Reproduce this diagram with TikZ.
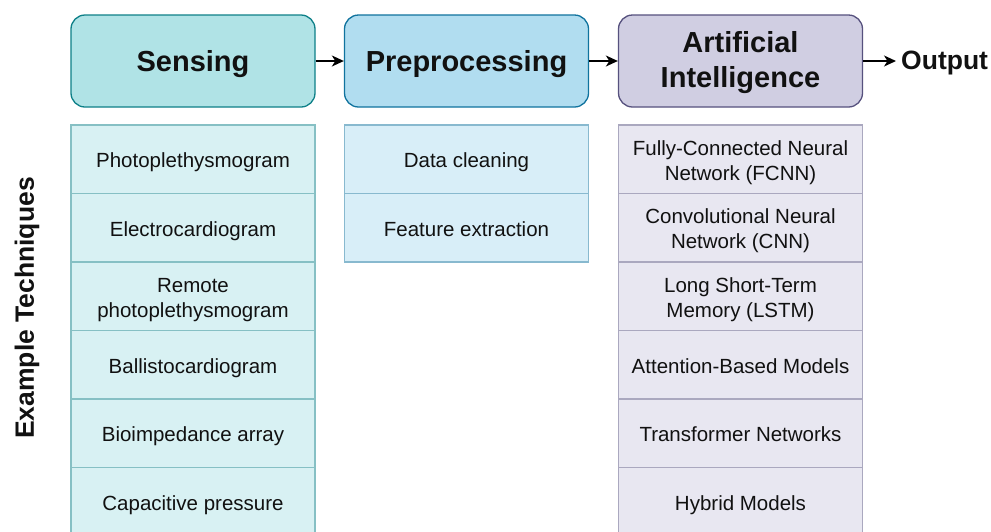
\documentclass[tikz,border=0pt]{standalone}
\usepackage{fontspec}
\setmainfont{Liberation Sans}
\usetikzlibrary{arrows.meta}
\definecolor{sF}{HTML}{B0E3E6}
\definecolor{sD}{HTML}{0E8088}
\definecolor{pF}{HTML}{B1DDF0}
\definecolor{pD}{HTML}{10739E}
\definecolor{aF}{HTML}{D0CEE2}
\definecolor{aD}{HTML}{56517E}
\definecolor{sCF}{HTML}{D8F1F3}
\definecolor{sCD}{HTML}{86C0C4}
\definecolor{pCF}{HTML}{D8EEF8}
\definecolor{pCD}{HTML}{88B9CF}
\definecolor{aCF}{HTML}{E8E7F1}
\definecolor{aCD}{HTML}{AAA8BF}
\definecolor{txt}{HTML}{111111}
\newcommand{\cellstrut}{\rule[-4.5pt]{0pt}{19.5pt}}
\begin{document}
\begin{tikzpicture}[x=1pt,y=-1pt,
  hdr/.style={draw, line width=1.3pt, rounded corners=14pt, minimum width=244pt,
    minimum height=92pt, inner sep=0pt},
  htxt/.style={inner sep=0pt, align=center, text=txt,
    font=\fontsize{29}{35}\selectfont\bfseries},
  cell/.style={draw, line width=1.3pt, minimum width=244pt, minimum height=68.5pt,
    inner sep=0pt},
  ctxt/.style={inner sep=0pt, align=center, text=txt, font=\fontsize{20.5}{25}\selectfont},
  arr/.style={line width=1.6pt, -{Stealth[length=12pt,width=11pt,inset=3.5pt]}},
  lbl/.style={inner sep=0pt, text=txt, font=\fontsize{26.5}{32}\selectfont\bfseries}
]
\useasboundingbox (0,0) rectangle (991,531);
\clip (0,0) rectangle (991,531);
\fill[white] (0,0) rectangle (991,531);

% headers
\node[hdr, fill=sF, draw=sD] (sens) at (193,61) {};
\node[hdr, fill=pF, draw=pD] (pre) at (466.5,61) {};
\node[hdr, fill=aF, draw=aD] (ai) at (740.5,61) {};
\node[htxt] (sensT) at ([yshift=-3.5pt]sens.center) {Sensing};
\node[htxt] (preT) at ([yshift=-3.5pt]pre.center) {Preprocessing};
\node[htxt] (aiT) at ([yshift=-2pt]ai.center) {Artificial\\Intelligence};
\node[lbl, anchor=west] (out) at (901,63) {Output};

\draw[arr] (sens.east) -- (pre.west);
\draw[arr] (pre.east) -- (ai.west);
\draw[arr, shorten >=5pt] (ai.east) -- (ai.east -| out.west);

% side label
\node[lbl, rotate=90] (ex) at (27,308) {Example Techniques};

% sensing cells
\foreach \t [count=\i] in {Photoplethysmogram, Electrocardiogram,
  {Remote\\photoplethysmogram}, Ballistocardiogram, Bioimpedance array,
  Capacitive pressure}{
  \node[cell, fill=sCF, draw=sCD] (s\i) at (193,{125+34.25+68.5*(\i-1)}) {};
  \node[ctxt] (s\i t) at ([yshift=-3pt]s\i.center) {\cellstrut\t};
}

% preprocessing cells
\foreach \t [count=\i] in {Data cleaning, Feature extraction}{
  \node[cell, fill=pCF, draw=pCD] (p\i) at (466.5,{125+34.25+68.5*(\i-1)}) {};
  \node[ctxt] (p\i t) at ([yshift=-3pt]p\i.center) {\cellstrut\t};
}

% AI cells
\foreach \t [count=\i] in {{Fully-Connected Neural\\Network (FCNN)},
  {Convolutional Neural\\Network (CNN)}, {Long Short-Term\\Memory (LSTM)},
  Attention-Based Models, Transformer Networks, Hybrid Models}{
  \node[cell, fill=aCF, draw=aCD] (a\i) at (740.5,{125+34.25+68.5*(\i-1)}) {};
  \node[ctxt] (a\i t) at ([yshift=-3pt]a\i.center) {\cellstrut\t};
}
\end{tikzpicture}
\end{document}
